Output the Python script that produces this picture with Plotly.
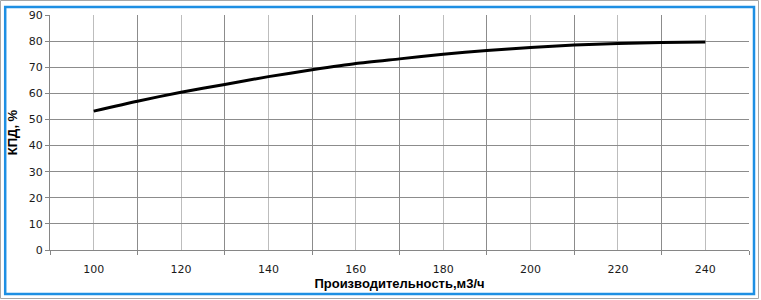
import plotly.graph_objects as go

# Data
flow = [100, 110, 120, 130, 140, 150, 160, 170, 180, 190, 200, 210, 220, 230, 240]
efficiency = [53.2, 57.0, 60.4, 63.4, 66.4, 69.0, 71.4, 73.2, 75.0, 76.4, 77.6, 78.5, 79.1, 79.5, 79.7]
x_label_ticks = [100, 120, 140, 160, 180, 200, 220, 240]
x_boundary_ticks = [90, 110, 130, 150, 170, 190, 210, 230, 250]
y_ticks = [0, 10, 20, 30, 40, 50, 60, 70, 80, 90]
x_title = "Производительность,м3/ч"
y_title = "КПД, %"

W, H = 761, 300
L, R, T, B = 50, 12, 15, 50
pw, ph = W - L - R, H - T - B


def px_x(px):
    return (px - L) / pw


def px_y(py):
    return (H - B - py) / ph


fig = go.Figure()
fig.add_trace(go.Scatter(
    x=flow, y=efficiency, mode="lines",
    line=dict(color="black", width=3, shape="spline", smoothing=0.6),
    showlegend=False, hoverinfo="skip",
))

tick_font = dict(family="DejaVu Sans", size=11, color="#1a1a1a")
title_font = dict(family="Liberation Sans", size=13, color="black")

fig.update_layout(
    width=W, height=H,
    margin=dict(l=L, r=R, t=T, b=B, autoexpand=False),
    paper_bgcolor="white", plot_bgcolor="white",
    xaxis=dict(
        range=[90, 250], tickmode="array", tickvals=x_label_ticks,
        ticktext=[str(v) for v in x_label_ticks],
        ticks="outside", ticklen=9, tickcolor="rgba(0,0,0,0)",
        showgrid=True, gridcolor="#bdbdbd", gridwidth=1,
        zeroline=False, showline=True, linecolor="#868686", linewidth=1,
        tickfont=tick_font,
        minor=dict(tickmode="array", tickvals=x_boundary_ticks, ticks="outside",
                   ticklen=4, tickcolor="#868686", showgrid=True,
                   gridcolor="#8c8c8c", gridwidth=1),
        title=dict(text="<b>" + x_title + "</b>", font=title_font, standoff=3),
        fixedrange=True,
    ),
    yaxis=dict(
        range=[0, 90], tickmode="array", tickvals=y_ticks,
        ticks="outside", ticklen=4, tickcolor="#868686",
        showgrid=True, gridcolor="#8c8c8c", gridwidth=1,
        zeroline=False, showline=True, linecolor="#868686", linewidth=1,
        tickfont=tick_font,
        title=dict(text="<b>" + y_title + "</b>", font=title_font, standoff=8),
        fixedrange=True,
    ),
    shapes=[
        dict(type="rect", xref="paper", yref="paper",
             x0=px_x(0.5), x1=px_x(758.5), y0=px_y(298.5), y1=px_y(0.5),
             line=dict(color="#a6a6a6", width=1), layer="above"),
        dict(type="rect", xref="paper", yref="paper",
             x0=px_x(5.2), x1=px_x(754), y0=px_y(294), y1=px_y(7),
             line=dict(color="#1e8fe3", width=2.5), layer="above"),
    ],
)

fig.write_html("out.html")
